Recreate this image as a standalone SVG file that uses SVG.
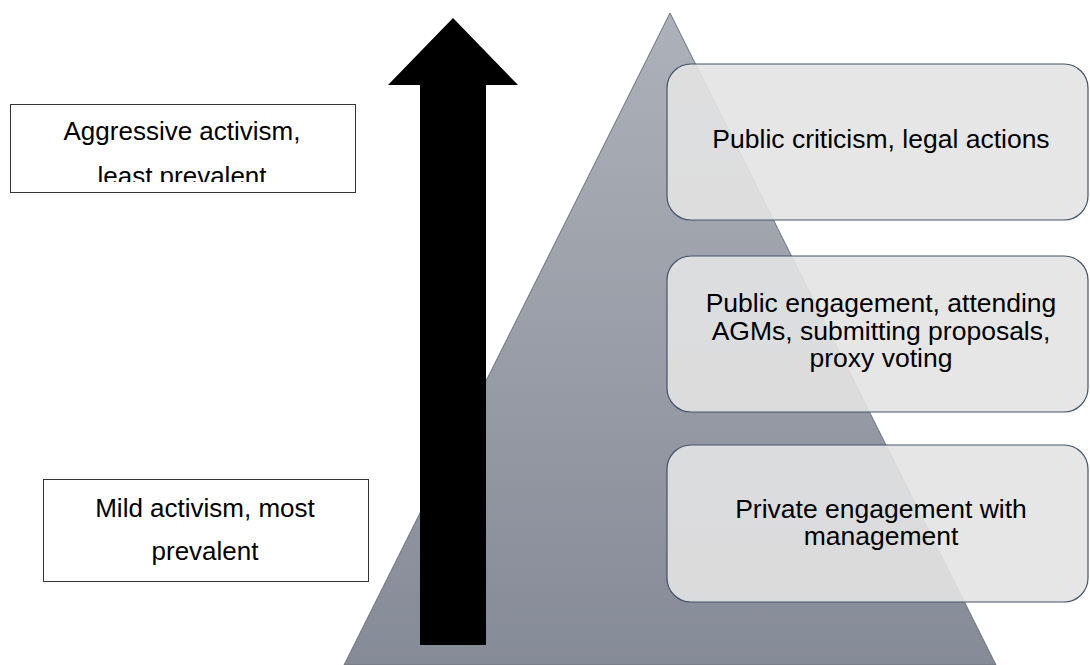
<svg xmlns="http://www.w3.org/2000/svg" width="1090" height="665" viewBox="0 0 1090 665">
  <defs>
    <linearGradient id="triGrad" x1="0" y1="0" x2="0" y2="1">
      <stop offset="0" stop-color="#adb1b9"/>
      <stop offset="1" stop-color="#858b97"/>
    </linearGradient>
    <clipPath id="clip1"><rect x="10" y="104" width="345" height="78"/></clipPath>
  </defs>
  <style>
    .txt { font-family: "Liberation Sans", Arial, sans-serif; font-size: 26.5px; fill: #000; text-anchor: middle; }
    .ltxt { font-size: 26px; }
    .lbox { fill: #ffffff; stroke: #333333; stroke-width: 1; }
    .rbox { fill: #e3e3e3; fill-opacity: 0.9; stroke: #44546a; stroke-width: 1.2; }
  </style>
  <rect width="1090" height="665" fill="#ffffff"/>
  <g id="pyramid">
    <polygon points="670,13 996,665 344,665" fill="url(#triGrad)" stroke="#6e737c" stroke-width="1"/>
  </g>
  <g id="arrow">
    <polygon points="453,18 518,85 486,85 486,645 420,645 420,85 388,85" fill="#000000"/>
  </g>
  <g id="label-aggressive">
    <rect class="lbox" x="10.5" y="104.5" width="345" height="88"/>
    <g clip-path="url(#clip1)">
      <text class="txt ltxt" x="182" y="140">Aggressive activism,</text>
      <text class="txt ltxt" x="182" y="185">least prevalent</text>
    </g>
  </g>
  <g id="label-mild">
    <rect class="lbox" x="43.5" y="479.5" width="325" height="102"/>
    <text class="txt ltxt" x="205" y="517">Mild activism, most</text>
    <text class="txt ltxt" x="205" y="560">prevalent</text>
  </g>
  <g id="level-top">
    <rect class="rbox" x="667" y="64" width="421" height="156" rx="24" ry="24"/>
    <text class="txt" x="881" y="148">Public criticism, legal actions</text>
  </g>
  <g id="level-middle">
    <rect class="rbox" x="667" y="256" width="421" height="156" rx="24" ry="24"/>
    <text class="txt" x="881" y="312">Public engagement, attending</text>
    <text class="txt" x="881" y="340">AGMs, submitting proposals,</text>
    <text class="txt" x="881" y="367">proxy voting</text>
  </g>
  <g id="level-bottom">
    <rect class="rbox" x="667" y="445" width="421" height="157" rx="24" ry="24"/>
    <text class="txt" x="881" y="518">Private engagement with</text>
    <text class="txt" x="881" y="545">management</text>
  </g>
  <g id="connectors"></g>
</svg>
